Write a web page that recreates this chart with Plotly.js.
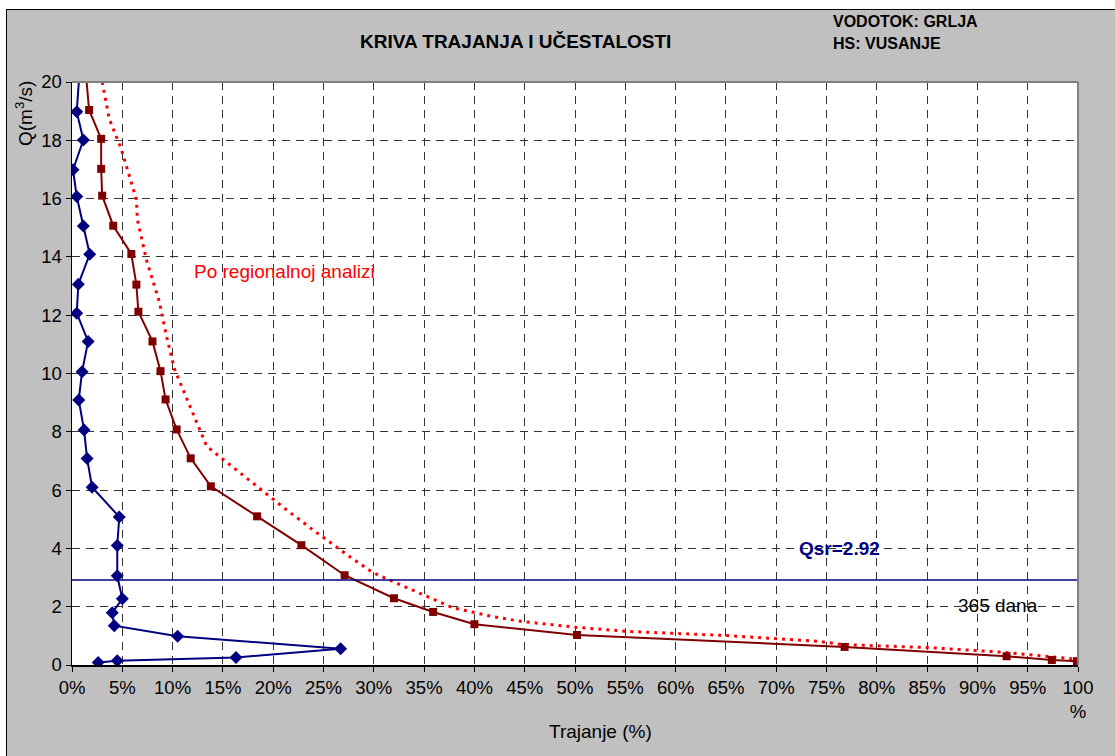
<!DOCTYPE html>
<html><head><meta charset="utf-8">
<script src="https://cdn.plot.ly/plotly-3.0.1.min.js"></script>
<style>
body{margin:0;background:#fff;}
#bg{position:absolute;left:6px;top:9px;width:1109px;height:747px;background:#c0c0c0;border-left:1.5px solid #000;border-top:1.5px solid #000;}
#chart{position:absolute;left:0;top:0;width:1115px;height:756px;}
</style></head><body>
<div id="bg"></div>
<div id="chart"></div>
<script>
// Observed duration curve (Q in m3/s vs duration %)
const obsQ   = [0.13, 0.17, 0.30, 0.62, 1.03, 1.40, 1.82, 2.29, 3.08, 4.11, 5.10, 6.13, 7.09, 8.08, 9.11, 10.08, 11.10, 12.12, 13.05, 14.10, 15.07, 16.10, 17.02, 18.05, 19.04, 20.60];
const obsPct = [99.9, 97.4, 92.9, 76.8, 50.2, 40.0, 35.9, 32.0, 27.1, 22.8, 18.4, 13.8, 11.8, 10.4, 9.3, 8.8, 8.0, 6.6, 6.4, 5.9, 4.1, 3.0, 2.9, 2.9, 1.7, 1.3];
// Frequency curve
const freqQ   = [0.09, 0.15, 0.26, 0.56, 0.99, 1.35, 1.79, 2.27, 3.06, 4.10, 5.08, 6.10, 7.08, 8.06, 9.09, 10.06, 11.10, 12.07, 13.06, 14.09, 15.06, 16.07, 16.99, 18.01, 18.98, 20.60];
const freqPct = [2.6, 4.5, 16.3, 26.7, 10.5, 4.2, 4.0, 5.0, 4.5, 4.5, 4.7, 2.0, 1.5, 1.2, 0.67, 1.0, 1.6, 0.47, 0.63, 1.76, 1.13, 0.47, 0.1, 1.13, 0.47, 0.8];
// Regional analysis curve
const regQ   = [20.0, 18.74, 17.7, 15.97, 15.28, 13.9, 12.44, 11.27, 10.14, 9.11, 8.32, 7.5, 6.95, 6.26, 5.33, 4.65, 3.79, 3.17, 2.49, 1.97, 1.66, 1.49, 1.29, 1.15, 1.01, 0.88, 0.81, 0.70, 0.60, 0.43, 0.26, 0.19];
const regPct = [3.0, 3.7, 4.9, 6.4, 6.5, 7.4, 8.7, 9.4, 10.2, 11.4, 12.4, 13.4, 15.4, 17.9, 21.3, 23.9, 27.3, 29.9, 34.3, 37.8, 41.8, 44.8, 50.2, 55.4, 65.1, 70.4, 74.3, 76.6, 85.0, 92.9, 98.2, 100];
const Qsr = 2.92;
const xTickVals = [0,5,10,15,20,25,30,35,40,45,50,55,60,65,70,75,80,85,90,95,100];
const xTickText = ["0%","5%","10%","15%","20%","25%","30%","35%","40%","45%","50%","55%","60%","65%","70%","75%","80%","85%","90%","95%","100<br>%"];
const yTickVals = [0,2,4,6,8,10,12,14,16,18,20];

const font = "Liberation Sans, Arial, sans-serif";
const fs = 18.5;
const traces = [
  {x: regPct, y: regQ, mode:'lines', line:{color:'#ff0000', width:3, dash:'3px,5px'}, hoverinfo:'skip'},
  {x: obsPct, y: obsQ, mode:'lines+markers', line:{color:'#800000', width:2}, marker:{symbol:'square', size:8, color:'#800000'}},
  {x: freqPct, y: freqQ, mode:'lines+markers', line:{color:'#000080', width:2}, marker:{symbol:'diamond', size:10, color:'#000080'}},
  {x: [0,100], y: [Qsr,Qsr], mode:'lines', line:{color:'#000080', width:1.5}}
];
const px = v => (v-72)/1006;          // page x -> paper x
const py = v => (665-v)/583;          // page y -> paper y
const layout = {
  width:1115, height:756,
  margin:{l:72, r:37, t:82, b:91, pad:0},
  paper_bgcolor:'rgba(0,0,0,0)', plot_bgcolor:'#ffffff',
  showlegend:false,
  font:{family:font, size:fs, color:'#000'},
  xaxis:{range:[0,100], tickvals:xTickVals, ticktext:xTickText, showgrid:true, gridcolor:'#333', griddash:'8px,6px', gridwidth:1,
         zeroline:false, showline:true, linecolor:'#000', linewidth:1.5, ticks:'outside', ticklen:5, tickcolor:'#000',
         tickfont:{family:font, size:fs}},
  yaxis:{range:[0,20], tickvals:yTickVals, showgrid:true, gridcolor:'#333', griddash:'8px,6px', gridwidth:1,
         zeroline:false, showline:true, linecolor:'#000', linewidth:1.5, ticks:'outside', ticklen:5, tickcolor:'#000',
         tickfont:{family:font, size:fs}},
  shapes:[
    {type:'line', xref:'paper', yref:'paper', x0:0, x1:1, y0:1, y1:1, line:{color:'#808080', width:2}},
    {type:'line', xref:'paper', yref:'paper', x0:1, x1:1, y0:0, y1:1, line:{color:'#808080', width:2}}
  ],
  annotations:[
    {text:'<b>KRIVA TRAJANJA I UČESTALOSTI</b>', xref:'paper', yref:'paper', x:px(515), y:py(41), xanchor:'center', yanchor:'middle', showarrow:false, font:{family:font, size:19}},
    {text:'<b>VODOTOK: GRLJA</b>', xref:'paper', yref:'paper', x:px(831), xanchor:'left', y:py(21), yanchor:'middle', showarrow:false, font:{family:font, size:16}},
    {text:'<b>HS: VUSANJE</b>', xref:'paper', yref:'paper', x:px(831), xanchor:'left', y:py(43), yanchor:'middle', showarrow:false, font:{family:font, size:16}},
    {text:'Q(m<sup>3</sup>/s)', xref:'paper', yref:'paper', x:px(24), y:py(114), xanchor:'center', yanchor:'middle', textangle:-90, showarrow:false, font:{family:font, size:19}},
    {text:'Trajanje (%)', xref:'paper', yref:'paper', x:px(600), y:py(731), xanchor:'center', yanchor:'middle', showarrow:false, font:{family:font, size:19}},
    {text:'<b>Qsr=2.92</b>', x:76.3, y:4.0, showarrow:false, font:{family:font, size:19, color:'#000080'}},
    {text:'365 dana', x:92.0, y:2.04, showarrow:false, font:{family:font, size:19, color:'#000'}},
    {text:'Po regionalnoj analizi', x:11.9, xanchor:'left', y:13.5, showarrow:false, font:{family:font, size:19, color:'#ff0000'}}
  ]
};
Plotly.newPlot('chart', traces, layout, {staticPlot:true});
</script>
</body></html>
